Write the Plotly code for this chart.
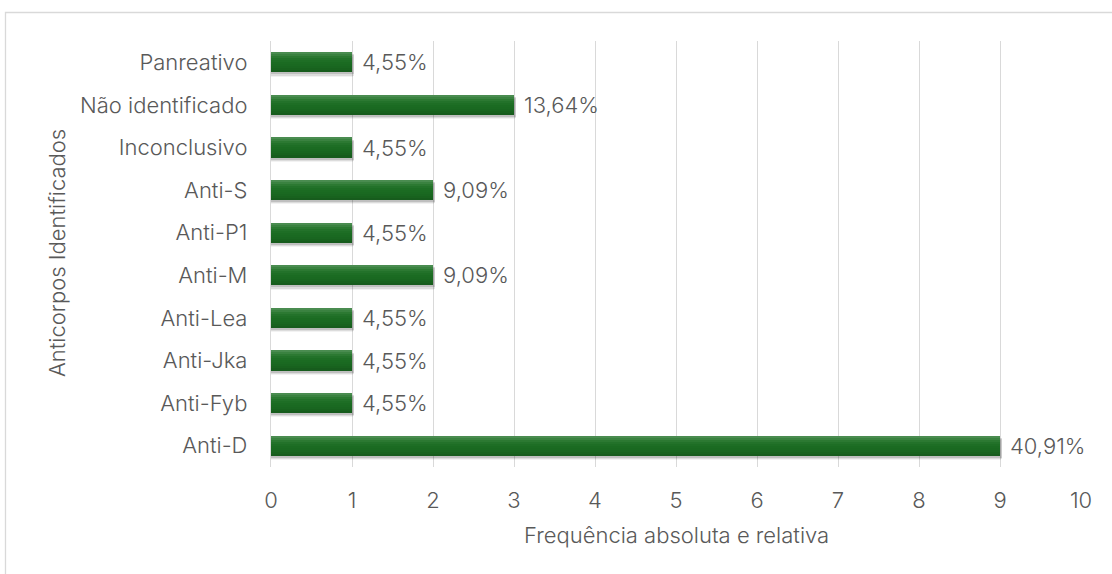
import plotly.graph_objects as go

# Antibody categories (bottom to top) and absolute counts
categorias = ["Anti-D", "Anti-Fyb", "Anti-Jka", "Anti-Lea", "Anti-M",
              "Anti-P1", "Anti-S", "Inconclusivo", "Não identificado", "Panreativo"]
contagens = [9, 1, 1, 1, 2, 1, 2, 1, 3, 1]
ticks_x = [0, 1, 2, 3, 4, 5, 6, 7, 8, 9, 10]

total = sum(contagens)
percentuais = [c / total * 100 for c in contagens]
rotulos = [f"{p:.2f}%".replace(".", ",") for p in percentuais]

FONT = "Inter"
FS = 22
FW = 300
TXT = "#595959"
W, H = 1112, 574
ML, MR, MT, MB = 271, 31, 41, 107

bar_w = 0.47
fig = go.Figure()

# soft drop shadow below each bar
for k, (dy, alpha) in enumerate([(0.10, 0.05), (0.075, 0.09), (0.05, 0.13)]):
    fig.add_trace(go.Bar(
        y=categorias, x=[c + 0.01 * (k + 1) for c in contagens], orientation="h",
        width=bar_w, offset=-bar_w / 2 - dy,
        marker=dict(color=f"rgba(0,0,0,{alpha})", line=dict(width=0)),
        hoverinfo="skip", showlegend=False,
    ))

# vertical gradient on the bar body, drawn as thin stacked strips
strips = ["#4a8c50", "#3a8240", "#2c7932", "#23722a", "#1e6e25",
          "#1b6b22", "#1a6921", "#196620", "#18621e", "#175c1d"]
n = len(strips)
h = bar_w / n
for i, col in enumerate(strips):
    fig.add_trace(go.Bar(
        y=categorias, x=contagens, orientation="h",
        width=h * 1.02, offset=bar_w / 2 - (i + 1) * h,
        marker=dict(color=col, line=dict(width=0)),
        hoverinfo="skip", showlegend=False,
    ))

font = dict(family=FONT, size=FS, color=TXT, weight=FW)

# percentage labels next to the bars
for cat, val, txt in zip(categorias, contagens, rotulos):
    fig.add_annotation(x=val, y=cat, text=txt, showarrow=False,
                       xanchor="left", yanchor="middle", xshift=8, font=font)

pw, ph = W - ML - MR, H - MT - MB

# axis titles
fig.add_annotation(x=(676 - ML) / pw, y=1 - (535 - MT) / ph,
                   xref="paper", yref="paper", text="Frequência absoluta e relativa",
                   xanchor="center", yanchor="middle", showarrow=False, font=font)
fig.add_annotation(x=(57 - ML) / pw, y=1 - (253 - MT) / ph,
                   xref="paper", yref="paper", text="Anticorpos Identificados",
                   xanchor="center", yanchor="middle",
                   textangle=-90, showarrow=False, font=font)

# chart frame
fig.add_shape(type="rect", xref="paper", yref="paper",
              x0=(5.5 - ML) / pw, x1=(W + 10 - ML) / pw,
              y0=-(H + 10 - MT - ph) / ph, y1=1 + (MT - 12.5) / ph,
              line=dict(color="#d9d9d9", width=1.3), layer="below")

fig.update_layout(
    width=W, height=H,
    margin=dict(l=ML, r=MR, t=MT, b=MB),
    barmode="overlay", bargap=0,
    paper_bgcolor="white", plot_bgcolor="white",
    font=font,
    xaxis=dict(range=[0, 10], tickvals=ticks_x, showgrid=True,
               gridcolor="#d9d9d9", gridwidth=1.3, zeroline=False,
               showline=False, ticks="", ticklabelstandoff=18,
               tickfont=font, fixedrange=True),
    yaxis=dict(categoryorder="array", categoryarray=categorias,
               showline=True, linecolor="#d9d9d9", linewidth=1.3,
               showgrid=False, ticks="", ticklabelstandoff=18,
               tickfont=font, fixedrange=True),
)

fig.write_html("out.html")
